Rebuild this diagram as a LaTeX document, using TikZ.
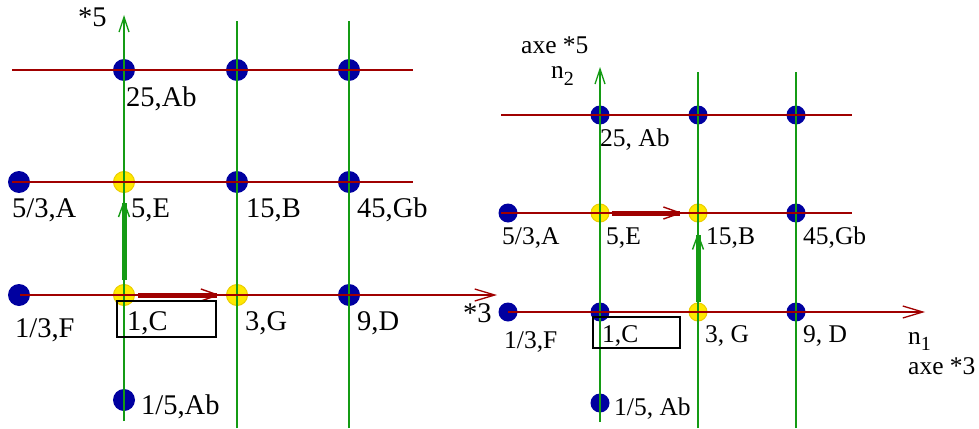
\documentclass[tikz,border=0pt]{standalone}
\usepackage{fontspec}
\setmainfont{Liberation Serif}
\newfontfamily\timesfont{Liberation Serif}
\usetikzlibrary{arrows.meta}
\definecolor{dotblue}{RGB}{0,0,160}
\definecolor{dotyellow}{RGB}{255,232,0}
\definecolor{yellowedge}{RGB}{235,205,0}
\definecolor{gridred}{RGB}{160,0,0}
\definecolor{gridgreen}{RGB}{20,155,20}
\begin{document}
\begin{tikzpicture}[x=1pt,y=-1pt,
  bdotL/.style={circle,fill=dotblue,inner sep=0pt,minimum size=22pt},
  ydotL/.style={circle,fill=dotyellow,draw=yellowedge,line width=1pt,inner sep=0pt,minimum size=21pt},
  bdotR/.style={circle,fill=dotblue,inner sep=0pt,minimum size=19pt},
  ydotR/.style={circle,fill=dotyellow,draw=yellowedge,line width=1pt,inner sep=0pt,minimum size=18pt},
  hline/.style={gridred,line width=1.3pt},
  vline/.style={gridgreen,line width=1.3pt},
  haxis/.style={hline,-{Straight Barb[length=20pt,width=12pt,line width=1.3pt]}},
  vaxis/.style={vline,-{Straight Barb[length=15pt,width=10pt,line width=1.3pt]}},
  redstep/.style={gridred,line width=5pt,-{Straight Barb[length=17pt,width=12pt,line width=1.4pt]}},
  greenstep/.style={gridgreen,line width=5pt,-{Straight Barb[length=15pt,width=11pt,line width=1.4pt]}},
  lblL/.style={anchor=base west,inner sep=0pt,font=\timesfont\fontsize{28.5}{30}\selectfont},
  lblR/.style={anchor=base west,inner sep=0pt,font=\timesfont\fontsize{25.5}{27}\selectfont},
  framebox/.style={draw=black,line width=1.3pt}
]
\useasboundingbox (0,0) rectangle (979,428);

% ---------------- left lattice ----------------
\node[bdotL] (Lab) at (124,70) {};
\node[bdotL] (Lx2) at (237,70) {};
\node[bdotL] (Lx3) at (349,70) {};
\node[bdotL] (LA) at (19,182) {};
\node[ydotL] (LE) at (124,182) {};
\node[bdotL] (LB) at (237,182) {};
\node[bdotL] (LGb) at (349,182) {};
\node[bdotL] (LF) at (19,295) {};
\node[ydotL] (LC) at (124,295) {};
\node[ydotL] (LG) at (237,295) {};
\node[bdotL] (LD) at (349,295) {};
\node[bdotL] (LAb) at (124,400) {};

\coordinate (LV1b) at (124,421); \coordinate (LV1t) at (124,15);
\coordinate (LV2b) at (237,428); \coordinate (LV2t) at (237,21);
\coordinate (LV3b) at (349,428); \coordinate (LV3t) at (349,21);
\coordinate (LH1l) at (12,70);  \coordinate (LH1r) at (413,70);
\coordinate (LH2l) at (12,182); \coordinate (LH2r) at (413,182);
\coordinate (LH3l) at (20,295); \coordinate (LH3r) at (497,295);

\draw[vaxis] (LV1b) -- (LV1t);
\draw[vline] (LV2b) -- (LV2t);
\draw[vline] (LV3b) -- (LV3t);
\draw[hline] (LH1l) -- (LH1r);
\draw[hline] (LH2l) -- (LH2r);
\draw[haxis] (LH3l) -- (LH3r);

\draw[redstep,shorten <=3pt,shorten >=6pt] (LC) -- (LG);
\draw[greenstep,shorten <=4pt,shorten >=7pt] (LC) -- (LE);

\node[framebox,minimum width=99pt,minimum height=36pt,inner sep=0pt] (LCbox) at (166.5,319) {};

\node[lblL] (tLab) at (126,106) {25,Ab};
\node[lblL] (tLA) at (12,217) {5/3,A};
\node[lblL] (tLE) at (131,217) {5,E};
\node[lblL] (tLB) at (246,217) {15,B};
\node[lblL] (tLGb) at (357,217) {45,Gb};
\node[lblL] (tLF) at (15,337) {1/3,F};
\node[lblL] (tLC) at (127,330) {1,C};
\node[lblL] (tLG) at (245,330) {3,G};
\node[lblL] (tLD) at (357,330) {9,D};
\node[lblL] (tL3) at (463,322) {*3};
\node[lblL] (tLAb) at (141,414) {1/5,Ab};
\node[lblL] (tL5) at (78,27) {*5};

% ---------------- right lattice ----------------
\node[bdotR] (Rab) at (600,115) {};
\node[bdotR] (Rx2) at (698,115) {};
\node[bdotR] (Rx3) at (796,115) {};
\node[bdotR] (RA) at (508,213) {};
\node[ydotR] (RE) at (600,213) {};
\node[ydotR] (RB) at (698,213) {};
\node[bdotR] (RGb) at (796,213) {};
\node[bdotR] (RF) at (508,312) {};
\node[bdotR] (RC) at (600,312) {};
\node[ydotR] (RG) at (698,312) {};
\node[bdotR] (RD) at (796,312) {};
\node[bdotR] (RAb) at (600,403) {};

\coordinate (RV1b) at (600,422); \coordinate (RV1t) at (600,67);
\coordinate (RV2b) at (698,428); \coordinate (RV2t) at (698,72);
\coordinate (RV3b) at (796,428); \coordinate (RV3t) at (796,72);
\coordinate (RH1l) at (501,115); \coordinate (RH1r) at (852,115);
\coordinate (RH2l) at (501,213); \coordinate (RH2r) at (852,213);
\coordinate (RH3l) at (508,312); \coordinate (RH3r) at (925,312);

\draw[vaxis] (RV1b) -- (RV1t);
\draw[vline] (RV2b) -- (RV2t);
\draw[vline] (RV3b) -- (RV3t);
\draw[hline] (RH1l) -- (RH1r);
\draw[hline] (RH2l) -- (RH2r);
\draw[haxis] (RH3l) -- (RH3r);

\draw[redstep,shorten <=2pt,shorten >=6pt] (RE) -- (RB);
\draw[greenstep,shorten <=1pt,shorten >=10pt] (RG) -- (RB);

\node[framebox,minimum width=87pt,minimum height=31pt,inner sep=0pt] (RCbox) at (636.5,332.5) {};

\node[lblR] (tRaxe5) at (521,53) {axe *5};
\node[lblR] (tRn2) at (551,78) {n\raisebox{-0.3em}{\fontsize{20}{22}\selectfont 2}};
\node[lblR] (tRab) at (600,146) {25, Ab};
\node[lblR] (tRA) at (502,244) {5/3,A};
\node[lblR] (tRE) at (606,244) {5,E};
\node[lblR] (tRB) at (706,244) {15,B};
\node[lblR] (tRGb) at (803,244) {45,Gb};
\node[lblR] (tRF) at (504,348) {1/3,F};
\node[lblR] (tRC) at (602,342) {1,C};
\node[lblR] (tRG) at (705,342) {3, G};
\node[lblR] (tRD) at (803,342) {9, D};
\node[lblR] (tRn1) at (908,344) {n\raisebox{-0.25em}{\fontsize{20}{22}\selectfont 1}};
\node[lblR] (tRaxe3) at (908,374) {axe *3};
\node[lblR] (tRAb) at (614,415) {1/5, Ab};
\end{tikzpicture}
\end{document}
